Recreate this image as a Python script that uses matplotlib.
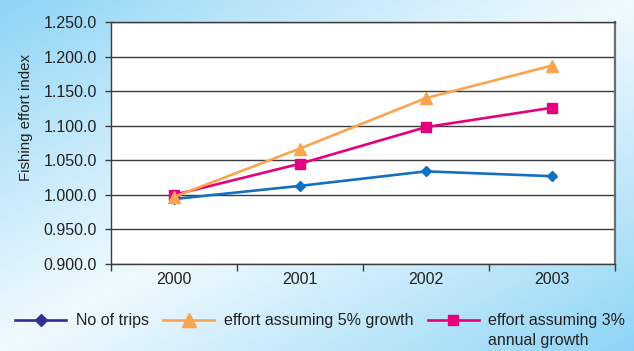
import numpy as np
import matplotlib
matplotlib.use("Agg")
import matplotlib.pyplot as plt
from matplotlib.lines import Line2D
from matplotlib.ticker import FuncFormatter, FixedLocator

plt.rcParams['font.family'] = ['Liberation Sans Narrow', 'Liberation Sans', 'DejaVu Sans']

years = ["2000", "2001", "2002", "2003"]
no_of_trips = [994, 1013, 1034, 1027]
effort_5pct = [997, 1067, 1140, 1187]
effort_3pct = [1000, 1045, 1098, 1126]

y_ticks = [900, 950, 1000, 1050, 1100, 1150, 1200, 1250]

c_trips = "#1170bf"
c_trips_legend = "#2e3192"
c_5pct = "#f9a54f"
c_3pct = "#e6007e"
grid_c = "#3c3c3c"
text_c = "#222222"


def index_label(v, pos):
    # thousands grouped with a dot, e.g. 1.250.0 and 0.900.0
    whole = int(round(v))
    return f"{whole // 1000}.{whole % 1000:03d}.0"


fig = plt.figure(figsize=(6.34, 3.51), dpi=100)

# diagonal light-blue backdrop
bg = fig.add_axes([0, 0, 1, 1], zorder=-10)
gx, gy = np.meshgrid(np.linspace(0, 1, 400), np.linspace(0, 1, 220))
f = np.clip(np.abs(gx + gy - 1.0), 0, 1) ** 1.1
f = 0.08 + 0.92 * f
blue = np.array([0x8d, 0xd4, 0xf5]) / 255.0
white = np.array([0.97, 0.99, 1.0])
img = white[None, None, :] * (1 - f[..., None]) + blue[None, None, :] * f[..., None]
bg.imshow(img, aspect='auto', extent=[0, 1, 1, 0], interpolation='bilinear')
bg.set_axis_off()

ax = fig.add_axes([111 / 634, 1 - 264 / 351, (615 - 111) / 634, (264 - 22) / 351])
ax.set_facecolor("white")

x = np.arange(len(years))
ax.plot(x, no_of_trips, color=c_trips, lw=1.9, marker='D', ms=5.5, zorder=3)
ax.plot(x, effort_3pct, color=c_3pct, lw=1.9, marker='s', ms=6.5, zorder=4)
ax.plot(x, effort_5pct, color=c_5pct, lw=1.9, marker='^', ms=9, zorder=5)

ax.set_xlim(-0.5, 3.5)
ax.set_ylim(900, 1250)
ax.yaxis.set_major_locator(FixedLocator(y_ticks))
ax.yaxis.set_major_formatter(FuncFormatter(index_label))
ax.grid(axis='y', color=grid_c, lw=1.0)
ax.set_axisbelow(True)

ax.xaxis.set_major_locator(FixedLocator([-0.5, 0.5, 1.5, 2.5, 3.5]))
ax.xaxis.set_major_formatter(FuncFormatter(lambda v, p: ""))
ax.set_xticks(x, minor=True)
ax.set_xticklabels(years, minor=True)
ax.tick_params(axis='x', which='major', length=5, width=1, color=grid_c, direction='out')
ax.tick_params(axis='x', which='minor', length=0, pad=6, labelsize=11.5, labelcolor=text_c)
ax.tick_params(axis='y', length=4, width=1, color=grid_c, direction='out', pad=6,
               labelsize=11.5, labelcolor=text_c)

for side in ['left', 'bottom', 'top']:
    ax.spines[side].set_color(grid_c)
    ax.spines[side].set_linewidth(1.0)
ax.spines['right'].set_color("#6e6e6e")
ax.spines['right'].set_linewidth(1.6)

ax.set_ylabel("Fishing effort index", fontsize=10.8, color=text_c)
ax.yaxis.set_label_coords(-0.155, 0.607)

handles = [
    Line2D([], [], color=c_trips_legend, lw=1.9, marker='D', ms=6),
    Line2D([], [], color=c_5pct, lw=1.9, marker='^', ms=10),
    Line2D([], [], color=c_3pct, lw=1.9, marker='s', ms=7),
]
labels = ["No of trips", "effort assuming 5% growth", "effort assuming 3%"]
leg = fig.legend(handles, labels, loc='center', bbox_to_anchor=(0.505, 1 - 321 / 351),
                 ncol=3, frameon=False, fontsize=11.5, handlelength=3.2,
                 handletextpad=0.6, columnspacing=0.9, labelcolor=text_c)

fig.canvas.draw()
t = leg.get_texts()[2]
bb = t.get_window_extent().transformed(fig.transFigure.inverted())
fig.text(bb.x0, bb.y0 - 4 / 351, "annual growth", fontsize=11.5, color=text_c,
         ha='left', va='top')

fig.savefig("out.png", dpi=100)
